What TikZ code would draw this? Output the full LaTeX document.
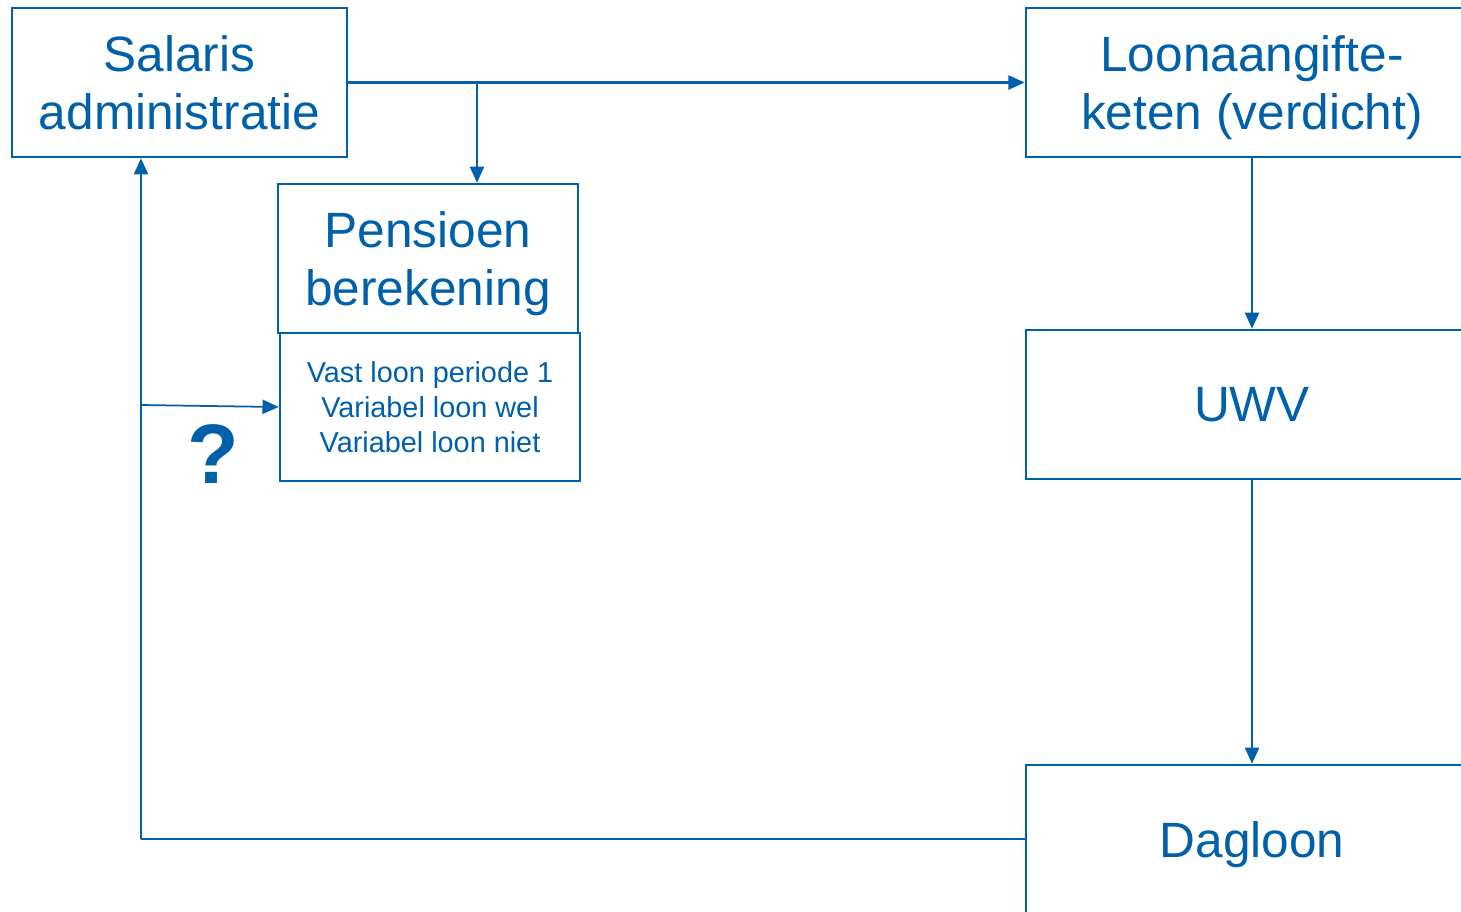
\documentclass[tikz,border=0pt]{standalone}
\usepackage{fontspec}
\setmainfont{Liberation Sans}
\usetikzlibrary{arrows.meta}
\definecolor{loonblauw}{RGB}{0,96,170}

\tikzset{
	blok/.style={draw=loonblauw, line width=0.7pt, text=loonblauw, align=center, inner sep=0pt,
		text depth=0pt, font=\fontsize{14.1}{16.3}\selectfont},
	lijst/.style={blok, text depth=, font=\fontsize{8.2}{10}\selectfont},
	pijl/.style={draw=loonblauw, line width=0.6pt, -{Triangle[length=4.6pt,width=4pt]}}
}

\begin{document}
\begin{tikzpicture}[x=0.01cm, y=-0.01cm]
				\useasboundingbox (0,0) rectangle (1461,911);
				
				% linker kolom
				\node[blok, minimum width=3.35cm, minimum height=1.49cm] (sal) at (179.5,82.5) {Salaris\\administratie};
				\node[blok, minimum width=3.00cm, minimum height=1.49cm] (pens) at (428,258.5) {Pensioen\\berekening};
				\node[lijst, minimum width=3.00cm, minimum height=1.48cm] (det) at (430,407) {Vast loon periode 1\\Variabel loon wel\\Variabel loon niet};
				\node[text=loonblauw, font=\fontsize{24}{24}\selectfont\bfseries] (vraag) at (213,454) {?};
				
				% rechter kolom
				\node[blok, minimum width=4.52cm, minimum height=1.49cm] (loon) at (1252,82.5) {Loonaangifte-\\keten (verdicht)};
				\node[blok, minimum width=4.52cm, minimum height=1.49cm] (uwv) at (1252,404.5) {UWV};
				\node[blok, minimum width=4.52cm, minimum height=1.49cm] (dag) at (1252,839.5) {Dagloon};
				
				\coordinate (split) at (477,82.5);
				\coordinate (terug) at (141,839);
				\coordinate (vraagpunt) at (141,405);
				
				\draw[pijl] (sal.east) -- (loon.west);
				\draw[pijl] (split) -- (split |- pens.north);
				\draw[pijl] (loon.south) -- (uwv.north);
				\draw[pijl] (uwv.south) -- (dag.north);
				
				% terugkoppeling
				\draw[loonblauw, line width=0.35pt] (dag.west |- terug) -- (terug);
				\draw[pijl] (terug) -- (terug |- sal.south);
				\draw[pijl, line width=0.5pt] (vraagpunt) -- (det.west);
			\end{tikzpicture}
\end{document}
